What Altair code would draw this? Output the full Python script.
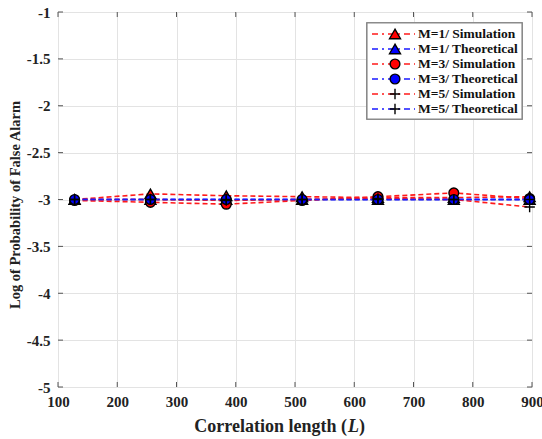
import altair as alt
import pandas as pd

# Correlation length values and log10 false-alarm probabilities
corr_len = [128, 256, 384, 512, 640, 768, 896]
m1_sim = [-3.00, -2.94, -2.96, -2.97, -2.98, -2.98, -2.97]
m1_theo = [-3.00, -3.00, -3.00, -3.00, -3.00, -3.00, -3.00]
m3_sim = [-3.01, -3.03, -3.05, -3.01, -2.97, -2.93, -2.99]
m3_theo = [-3.00, -3.00, -3.00, -3.00, -3.00, -3.00, -3.00]
m5_sim = [-3.00, -3.00, -3.01, -3.00, -2.99, -3.00, -3.08]
m5_theo = [-3.00, -3.00, -3.00, -3.00, -3.00, -3.00, -3.00]

series_names = ["M=1/ Simulation", "M=1/ Theoretical", "M=3/ Simulation",
                "M=3/ Theoretical", "M=5/ Simulation", "M=5/ Theoretical"]
series_values = [m1_sim, m1_theo, m3_sim, m3_theo, m5_sim, m5_theo]

x_ticks = [100, 200, 300, 400, 500, 600, 700, 800, 900]
y_ticks = [-1, -1.5, -2, -2.5, -3, -3.5, -4, -4.5, -5]

PLUS = "M-1,0L1,0M0,-1L0,1"
RED, BLUE = "#ff1a1a", "#1a1aff"
line_colors = [RED, BLUE, RED, BLUE, RED, BLUE]
fill_colors = ["#ff0000", "#0000ff", "#ff0000", "#0000ff", "#000000", "#000000"]
shapes = ["triangle-up", "triangle-up", "circle", "circle", PLUS, PLUS]
sizes = [120, 120, 95, 95, 110, 110]

W, H = 474, 375
SERIF = "Liberation Serif"

rows = []
for i, (name, vals) in enumerate(zip(series_names, series_values)):
    for L, v in zip(corr_len, vals):
        rows.append(dict(series=name, order=i, L=L, pfa=v, lc=line_colors[i],
                         fc=fill_colors[i], shp=shapes[i], sz=sizes[i]))
df = pd.DataFrame(rows)

x_scale = alt.Scale(domain=[100, 900], nice=False)
y_scale = alt.Scale(domain=[-5, -1], nice=False)

x_axis = alt.Axis(values=x_ticks, title=None, ticks=False, domain=False,
                  grid=True, gridColor="#e3e3e3", labelFont=SERIF,
                  labelFontWeight="bold", labelFontSize=15, labelColor="#222",
                  labelPadding=7, labelFlush=False)
y_axis = alt.Axis(values=y_ticks, title=None, ticks=False, domain=False,
                  grid=True, gridColor="#e3e3e3", labelFont=SERIF,
                  labelFontWeight="bold", labelFontSize=15, labelColor="#222",
                  labelPadding=8, labelExpr="'' + datum.value")

base = alt.Chart(df)

lines = base.mark_line(strokeDash=[5, 3], strokeWidth=1.6).encode(
    x=alt.X("L:Q", scale=x_scale, axis=x_axis),
    y=alt.Y("pfa:Q", scale=y_scale, axis=y_axis),
    detail="series:N",
    stroke=alt.Stroke("lc:N", scale=None),
    order="order:Q",
)

points = base.mark_point(filled=True, stroke="black", strokeWidth=1.4, opacity=1).encode(
    x=alt.X("L:Q", scale=x_scale),
    y=alt.Y("pfa:Q", scale=y_scale),
    shape=alt.Shape("shp:N", scale=None),
    fill=alt.Fill("fc:N", scale=None),
    size=alt.Size("sz:Q", scale=None),
    order="order:Q",
)

# inward box ticks on all four sides
xt = pd.DataFrame({"v": x_ticks})
yt = pd.DataFrame({"v": y_ticks})
tick_style = dict(color="#555555", strokeWidth=1)
xt_bottom = alt.Chart(xt).mark_rule(**tick_style).encode(
    x=alt.X("v:Q", scale=x_scale), y=alt.value(H), y2=alt.value(H - 5))
xt_top = alt.Chart(xt).mark_rule(**tick_style).encode(
    x=alt.X("v:Q", scale=x_scale), y=alt.value(0), y2=alt.value(5))
yt_left = alt.Chart(yt).mark_rule(**tick_style).encode(
    y=alt.Y("v:Q", scale=y_scale), x=alt.value(0), x2=alt.value(5))
yt_right = alt.Chart(yt).mark_rule(**tick_style).encode(
    y=alt.Y("v:Q", scale=y_scale), x=alt.value(W), x2=alt.value(W - 5))

plot = alt.layer(xt_bottom, xt_top, yt_left, yt_right, lines, points)

# legend box
leg_df = pd.DataFrame({"row": list(range(6)), "label": series_names,
                       "lc": line_colors, "fc": fill_colors, "shp": shapes,
                       "sz": sizes})
leg_y = alt.Y("row:O", scale=alt.Scale(type="point", range=[22, 97], padding=0),
              axis=None)
leg_box = alt.Chart(leg_df).mark_rect(fill="white", stroke="#8a8a8a",
                                      strokeWidth=1.2).encode(
    x=alt.value(309), x2=alt.value(464), y=alt.value(11), y2=alt.value(107))
leg_line = alt.Chart(leg_df).mark_rule(strokeDash=[6, 4, 2, 4], strokeWidth=1.6).encode(
    x=alt.value(314), x2=alt.value(357), y=leg_y,
    color=alt.Color("lc:N", scale=None))
leg_mark = alt.Chart(leg_df).mark_point(filled=True, stroke="black",
                                        strokeWidth=1.4, opacity=1).encode(
    x=alt.value(337), y=leg_y,
    shape=alt.Shape("shp:N", scale=None),
    fill=alt.Fill("fc:N", scale=None),
    size=alt.Size("sz:Q", scale=None))
leg_text = alt.Chart(leg_df).mark_text(align="left", baseline="middle", font=SERIF,
                                       fontWeight="bold", fontSize=13.5,
                                       color="#111").encode(
    x=alt.value(360), y=leg_y, text="label:N")
legend = alt.layer(leg_box, leg_line, leg_mark, leg_text)

# axis titles
title_df = pd.DataFrame({"t": [0]})
title_style = dict(font=SERIF, fontWeight="bold", fontSize=18, color="#222",
                   baseline="middle")
xt1 = alt.Chart(title_df).mark_text(align="right", text="Correlation length (",
                                    **title_style).encode(
    x=alt.value(289), y=alt.value(415))
xt2 = alt.Chart(title_df).mark_text(align="left", text="L", fontStyle="italic",
                                    **title_style).encode(
    x=alt.value(290), y=alt.value(415))
xt3 = alt.Chart(title_df).mark_text(align="left", text=")", **title_style).encode(
    x=alt.value(301), y=alt.value(415))
ytitle = alt.Chart(title_df).mark_text(align="center", angle=270,
                                       text="Log of Probability of False Alarm",
                                       font=SERIF, fontWeight="bold", fontSize=14.5,
                                       color="#222", baseline="middle").encode(
    x=alt.value(-42), y=alt.value(193))
titles = alt.layer(xt1, xt2, xt3, ytitle)

chart = alt.layer(plot, legend, titles).resolve_scale(
    x="independent", y="independent"
).properties(
    width=W, height=H,
    autosize=alt.AutoSizeParams(type="none"),
    padding={"left": 58, "top": 12, "right": 10, "bottom": 52},
).configure_view(
    stroke="#5a5a5a", strokeWidth=1.5
).configure(background="white")

chart.save("out.html", embed_options={"renderer": "svg", "actions": False})
